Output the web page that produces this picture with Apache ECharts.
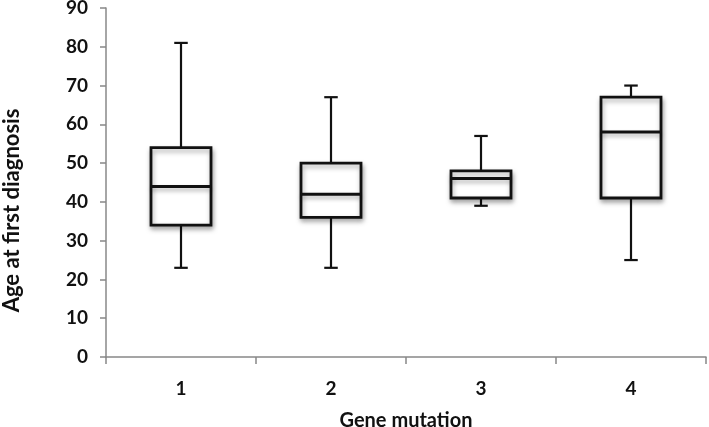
<!DOCTYPE html>
<html>
<head>
<meta charset="utf-8">
<script src="https://cdn.jsdelivr.net/npm/echarts@6/dist/echarts.min.js"></script>
<style>
  html, body { margin: 0; padding: 0; background: #fff; }
  #chart { width: 709px; height: 427px; }
</style>
</head>
<body>
<div id="chart"></div>
<script>
// box plot values
var categories = ['1', '2', '3', '4'];
var whiskerLow = [23, 23, 39, 25];
var q1 = [34, 36, 41, 41];
var median = [44, 42, 46, 58];
var q3 = [54, 50, 48, 67];
var whiskerHigh = [81, 67, 57, 70];

var boxData = categories.map(function (c, i) {
  return [i, whiskerLow[i], q1[i], median[i], q3[i], whiskerHigh[i]];
});

var chart = echarts.init(document.getElementById('chart'));

function renderBox(params, api) {
  var idx = api.value(0);
  var band = api.size([1, 0])[0];
  var half = band * 0.2;
  var cap = band * 0.045;
  var low = api.coord([idx, api.value(1)]);
  var p1 = api.coord([idx, api.value(2)]);
  var med = api.coord([idx, api.value(3)]);
  var p3 = api.coord([idx, api.value(4)]);
  var high = api.coord([idx, api.value(5)]);
  var x = low[0];
  var lineStyle = { stroke: '#111', lineWidth: 2.2, fill: null };
  return {
    type: 'group',
    children: [
      { type: 'line', shape: { x1: x, y1: high[1], x2: x, y2: p3[1] }, style: lineStyle },
      { type: 'line', shape: { x1: x, y1: p1[1], x2: x, y2: low[1] }, style: lineStyle },
      { type: 'line', shape: { x1: x - cap, y1: high[1], x2: x + cap, y2: high[1] }, style: lineStyle },
      { type: 'line', shape: { x1: x - cap, y1: low[1], x2: x + cap, y2: low[1] }, style: lineStyle },
      {
        type: 'rect',
        shape: { x: x - half, y: p3[1], width: half * 2, height: p1[1] - p3[1] },
        style: {
          fill: '#fff', stroke: '#111', lineWidth: 2.8,
          shadowBlur: 5, shadowOffsetX: 1, shadowOffsetY: 3, shadowColor: 'rgba(0,0,0,0.35)'
        }
      },
      {
        type: 'line',
        shape: { x1: x - half, y1: med[1], x2: x + half, y2: med[1] },
        style: {
          stroke: '#111', lineWidth: 3,
          shadowBlur: 4, shadowOffsetY: 3, shadowColor: 'rgba(0,0,0,0.3)'
        }
      }
    ]
  };
}

var option = {
  animation: false,
  grid: { left: 106, right: 3, top: 8, bottom: 70, outerBoundsMode: 'none', containLabel: false },
  xAxis: {
    type: 'category',
    data: categories,
    boundaryGap: true,
    name: 'Gene mutation',
    nameLocation: 'middle',
    nameGap: 54,
    nameTextStyle: { fontFamily: 'Lato', fontWeight: 'bold', fontSize: 20, color: '#111' },
    axisLine: { lineStyle: { color: '#888', width: 1.5 } },
    axisTick: { show: true, alignWithLabel: false, length: 7, lineStyle: { color: '#888', width: 1.5 } },
    axisLabel: { fontFamily: 'Lato', fontWeight: 'bold', fontSize: 19, color: '#111', margin: 22 }
  },
  yAxis: {
    type: 'value',
    min: 0,
    max: 90,
    interval: 10,
    name: 'Age at first diagnosis',
    nameLocation: 'middle',
    nameGap: 83,
    nameTextStyle: {
      fontFamily: 'Lato', fontWeight: 'bold', fontSize: 22, color: '#111',
      padding: [0, 56, 0, 0]
    },
    splitLine: { show: false },
    axisLine: { show: true, lineStyle: { color: '#888', width: 1.5 } },
    axisTick: { show: true, length: 6, lineStyle: { color: '#888', width: 1.5 } },
    axisLabel: { fontFamily: 'Lato', fontWeight: 'bold', fontSize: 19, color: '#111', margin: 18 }
  },
  series: [{
    type: 'custom',
    renderItem: renderBox,
    encode: { x: 0, y: [1, 2, 3, 4, 5] },
    data: boxData
  }]
};

chart.setOption(option);
</script>
</body>
</html>
